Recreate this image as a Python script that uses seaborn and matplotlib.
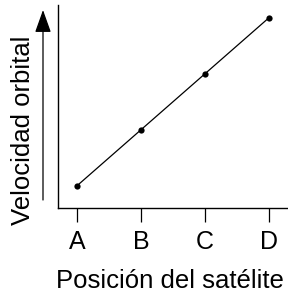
import matplotlib
matplotlib.use("Agg")
import matplotlib.pyplot as plt
import seaborn as sns
import pandas as pd

# datos
posiciones = ["A", "B", "C", "D"]
velocidad = [1.0, 2.0, 3.0, 4.0]

sns.set_theme(style="ticks")
plt.rcParams['font.family'] = ['Liberation Sans', 'DejaVu Sans']
plt.rcParams['text.color'] = 'black'
plt.rcParams['axes.labelcolor'] = 'black'
plt.rcParams['xtick.color'] = 'black'

df = pd.DataFrame({"pos": range(len(posiciones)), "vel": velocidad})

fig = plt.figure(figsize=(2.88, 2.93), dpi=100)
ax = fig.add_axes([58 / 288, 85 / 293, 1 - 58 / 288, 203 / 293])

sns.lineplot(data=df, x="pos", y="vel", ax=ax, color="black", linewidth=0.9,
             marker="o", markersize=4.5, markeredgewidth=0)

ax.set_xlim(-0.3, 3.3)
ax.set_ylim(0.6, 4.23)
ax.set_xticks(range(len(posiciones)))
ax.set_xticklabels(posiciones, fontsize=18)
ax.set_yticks([])
ax.tick_params(axis="x", direction="out", length=10, width=0.9, pad=6,
               color="black", labelcolor="black")
ax.spines["top"].set_visible(False)
ax.spines["right"].set_visible(False)
for s in ["left", "bottom"]:
    ax.spines[s].set_linewidth(1.0)
    ax.spines[s].set_color("black")

ax.set_xlabel("")
ax.set_ylabel("")

# etiquetas
fig.text(170 / 288, 1 - 288 / 293, "Posición del satélite", fontsize=18.5,
         ha="center", va="baseline", color="black")
fig.text(23 / 288, 1 - 130 / 293, "Velocidad orbital", rotation=90,
         fontsize=18.5, ha="center", va="center", color="black")

# flecha del eje y
fig.add_artist(matplotlib.patches.FancyArrowPatch(
    (43 / 288, 1 - 200 / 293), (43 / 288, 1 - 10 / 293),
    transform=fig.transFigure, arrowstyle="-|>,head_length=14,head_width=5",
    color="black", linewidth=0.9, mutation_scale=1, shrinkA=0, shrinkB=0))

fig.savefig("out.png", dpi=100)
